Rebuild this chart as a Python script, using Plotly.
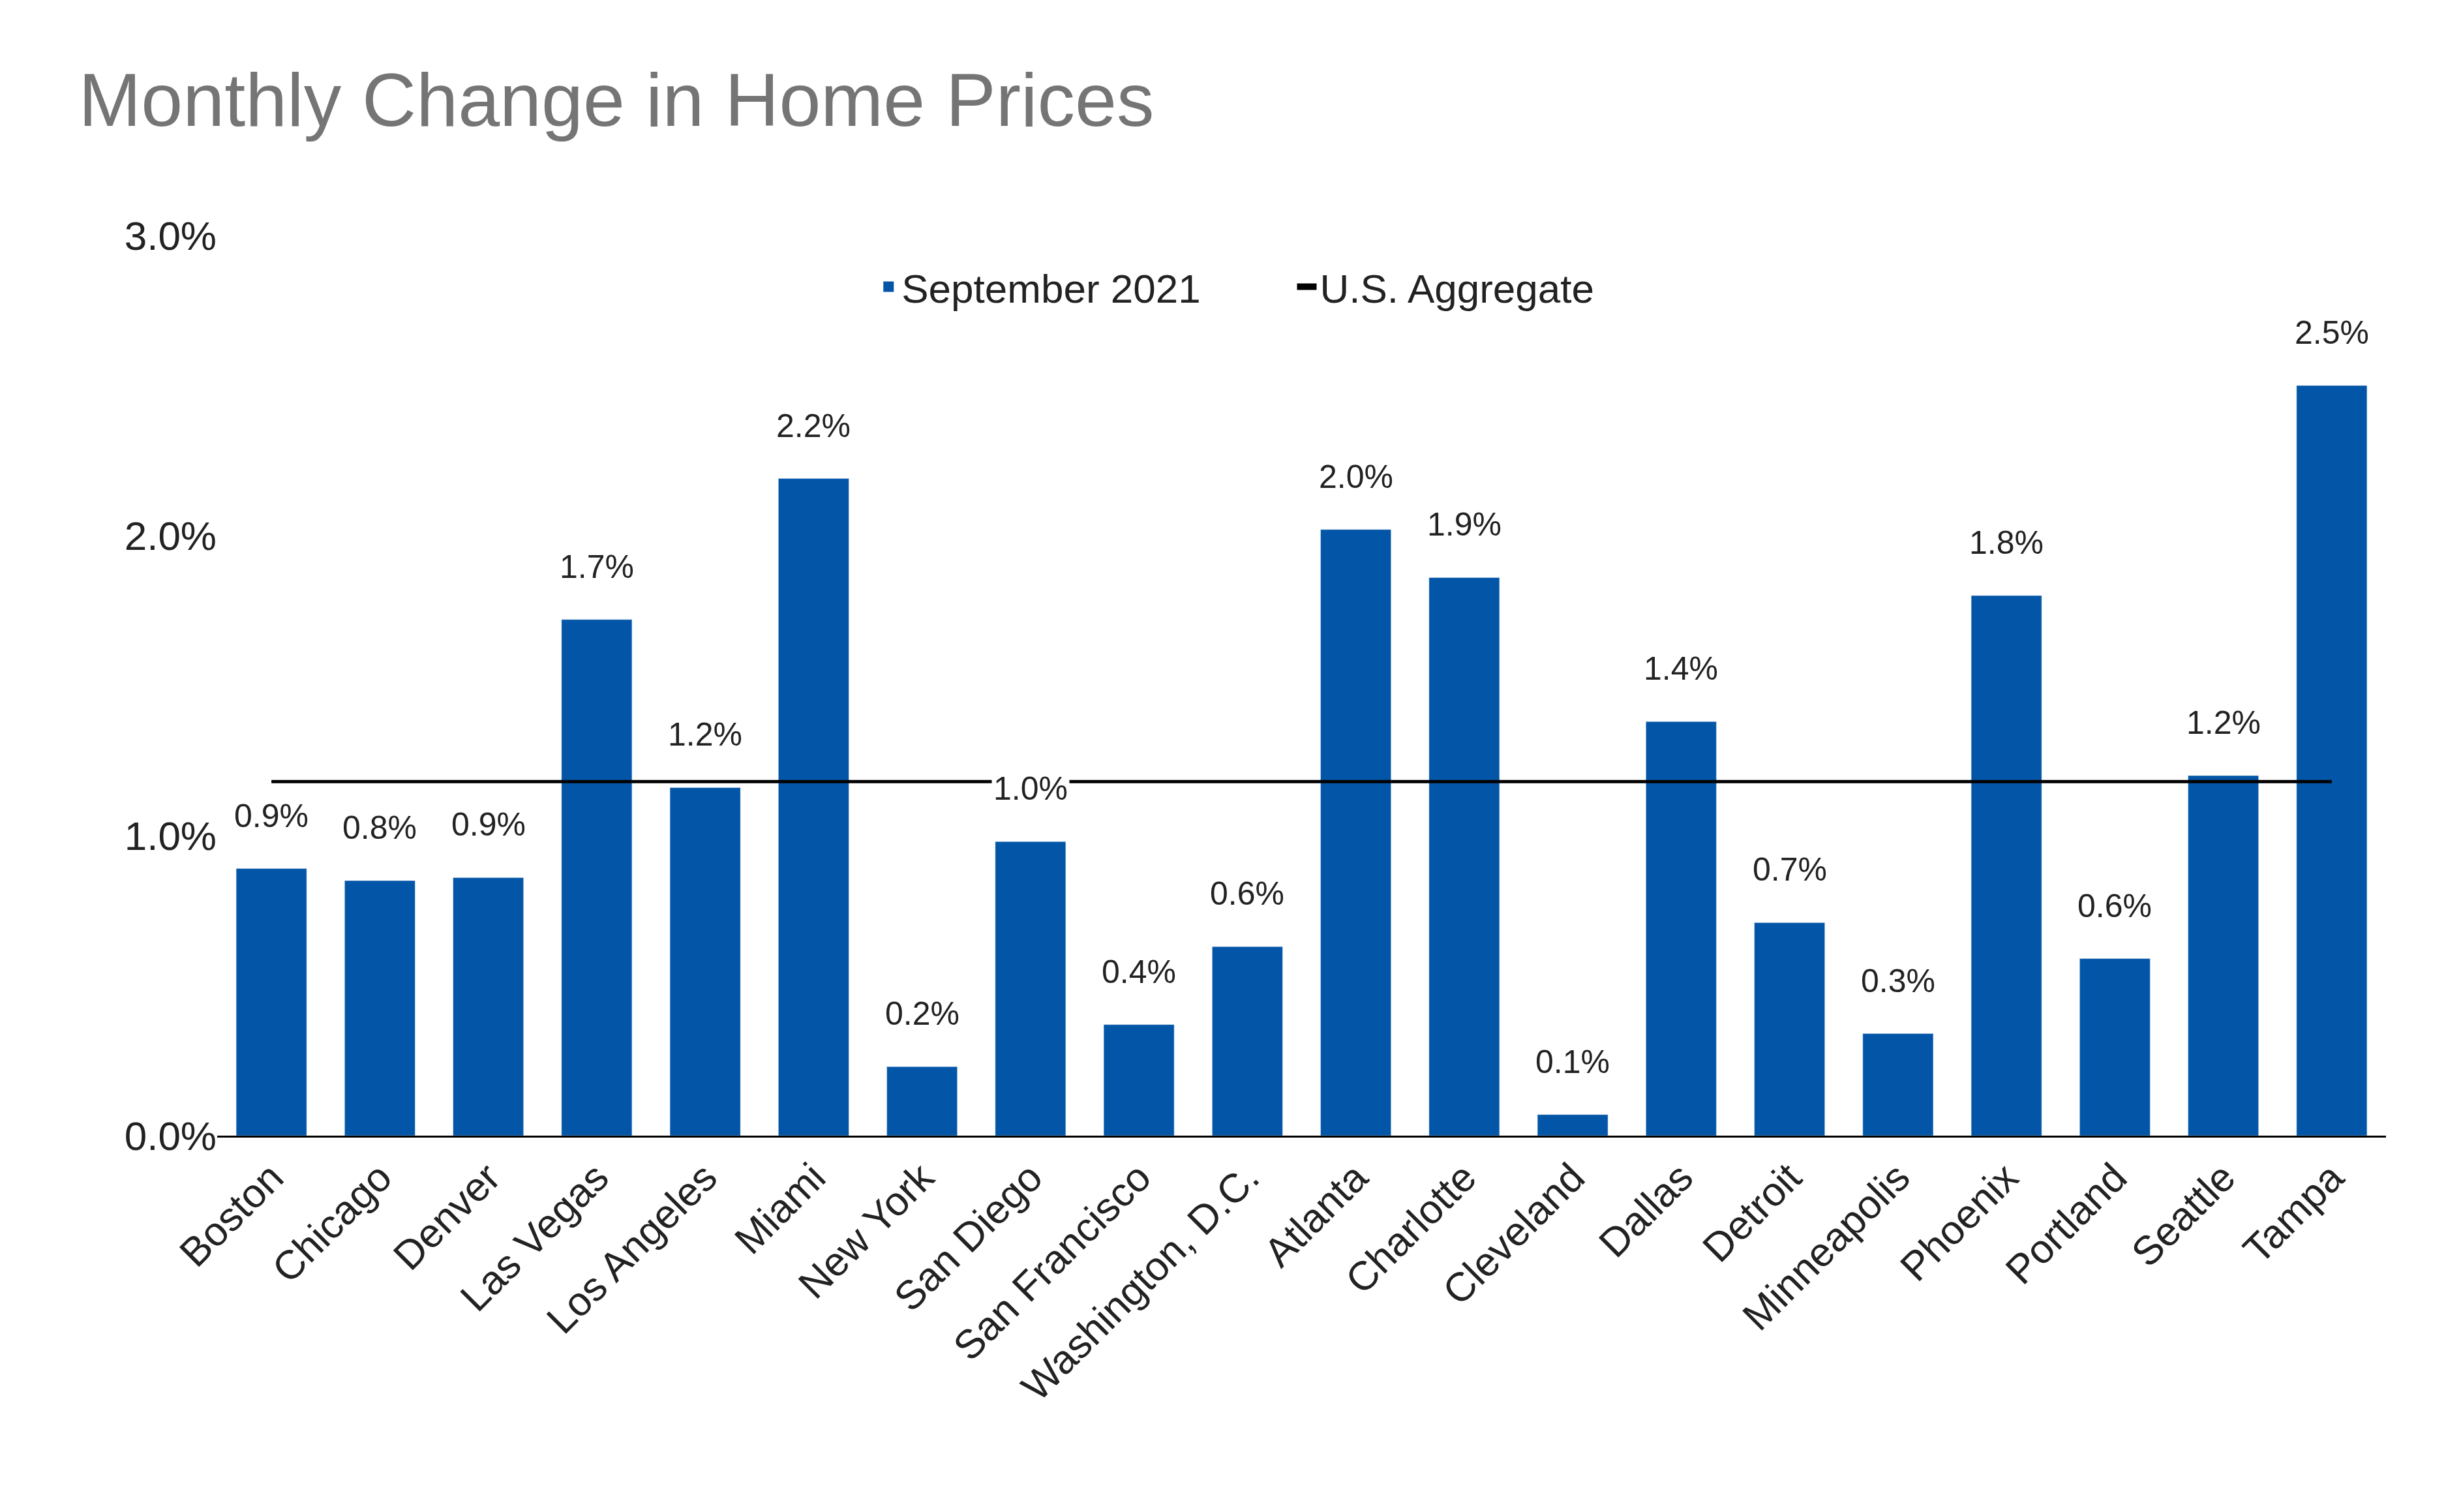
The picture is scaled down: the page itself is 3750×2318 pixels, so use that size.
import plotly.graph_objects as go

CITIES = ["Boston", "Chicago", "Denver", "Las Vegas", "Los Angeles", "Miami", "New York",
          "San Diego", "San Francisco", "Washington, D.C.", "Atlanta", "Charlotte",
          "Cleveland", "Dallas", "Detroit", "Minneapolis", "Phoenix", "Portland",
          "Seattle", "Tampa"]
SEPT_2021 = [0.89, 0.85, 0.86, 1.72, 1.16, 2.19, 0.23, 0.98, 0.37, 0.63, 2.02, 1.86,
             0.07, 1.38, 0.71, 0.34, 1.80, 0.59, 1.20, 2.50]
US_AGG = 1.18
FONT = "Arial, Liberation Sans, sans-serif"
BLUE = "#0356a7"

fig = go.Figure()
fig.add_trace(go.Bar(x=CITIES, y=SEPT_2021, marker_color=BLUE, showlegend=False))
fig.add_trace(go.Scatter(x=CITIES, y=[US_AGG] * len(CITIES), mode="lines",
                         line=dict(color="black", width=5), showlegend=False))
# legend-only entries with bigger symbols
fig.add_trace(go.Scatter(x=[None], y=[None], mode="markers", name="September 2021        ",
                         marker=dict(symbol="square", size=70, color=BLUE)))
fig.add_trace(go.Scatter(x=[None], y=[None], mode="lines", name="U.S. Aggregate",
                         line=dict(color="black", width=16)))

# bar value labels (white background so the aggregate line breaks behind them)
for c, v in zip(CITIES, SEPT_2021):
    fig.add_annotation(x=c, y=v, text=f"{v:.1f}%", showarrow=False, yanchor="bottom",
                       yshift=50, bgcolor="white", borderpad=2,
                       font=dict(size=50, color="#222", family=FONT))

fig.update_layout(
    width=3750, height=2318,
    title=dict(text="Monthly Change in Home Prices", x=0.03, y=0.955, yanchor="top",
               font=dict(size=115, color="#757575", family=FONT)),
    plot_bgcolor="white", paper_bgcolor="white",
    font=dict(family=FONT, size=60, color="#222"),
    margin=dict(l=325, r=100, t=353, b=585),
    bargap=0.35,
    legend=dict(orientation="h", x=0.47, xanchor="center", y=0.943, yanchor="middle",
                font=dict(size=62), bgcolor="rgba(0,0,0,0)", itemsizing="trace"),
)
fig.update_xaxes(tickangle=-45, showline=True, linecolor="black", linewidth=3,
                 tickfont=dict(size=62))
fig.update_yaxes(range=[0, 3.0], dtick=1.0, ticksuffix="%", tickformat=".1f",
                 showgrid=False, zeroline=False, tickfont=dict(size=62))

fig.write_html("out.html")
